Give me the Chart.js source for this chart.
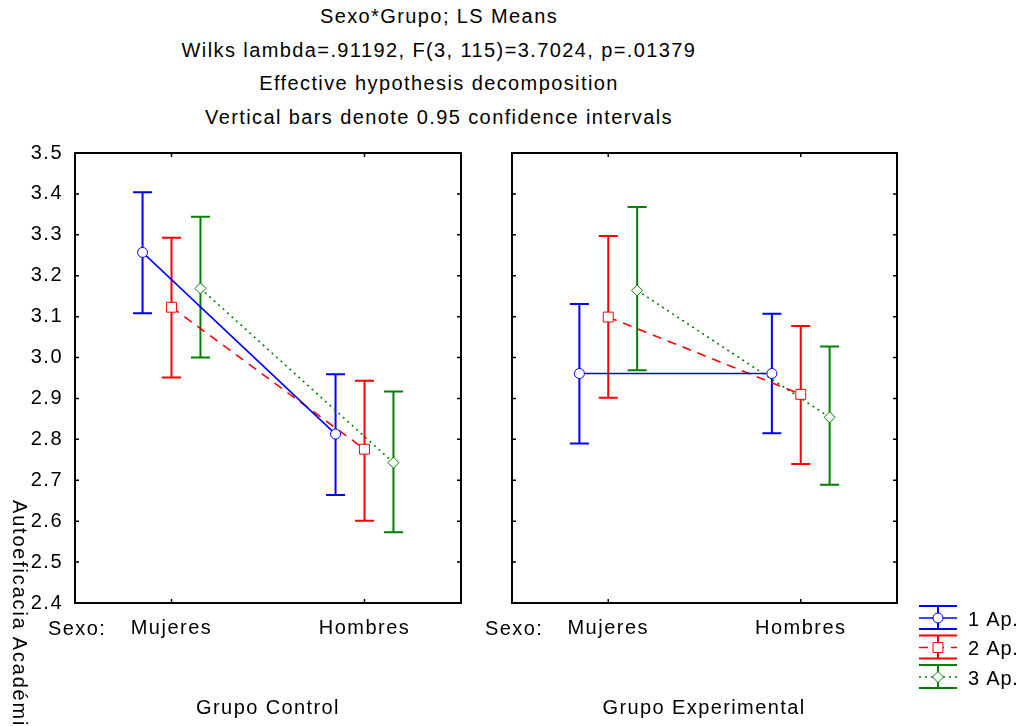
<!DOCTYPE html>
<html>
<head>
<meta charset="utf-8">
<script src="https://cdn.jsdelivr.net/npm/chart.js@4.4.0/dist/chart.umd.min.js"></script>
<style>
  html, body { margin: 0; padding: 0; background: #fff; }
  #wrap { position: relative; width: 1021px; height: 726px; overflow: hidden;
          font-family: "Liberation Sans", Arial, sans-serif; color: #000; }
  .txt { position: absolute; font-size: 20px; letter-spacing: 1.4px; white-space: nowrap; line-height: 24px; }
  .mid { transform: translate(-50%, -50%); }
  #titulo { left: 0; top: 0; width: 878px; text-align: center; line-height: 33.7px; }
  #ytitle { writing-mode: vertical-rl; left: 8px; top: 500px; letter-spacing: 1.8px; }
  canvas { position: absolute; }
</style>
</head>
<body>
<div id="wrap">
  <div id="titulo" class="txt">Sexo*Grupo; LS Means<br>Wilks lambda=.91192, F(3, 115)=3.7024, p=.01379<br>Effective hypothesis decomposition<br>Vertical bars denote 0.95 confidence intervals</div>
  <canvas id="chartControl" style="left:0;top:140px"></canvas>
  <canvas id="chartExperimental" style="left:480px;top:140px"></canvas>
  <div id="ytitle" class="txt">Autoeficacia Académica</div>
  <div class="txt" style="left:48px;top:616px">Sexo:</div>
  <div class="txt" style="left:485px;top:616px">Sexo:</div>
  <div class="txt mid" style="left:268px;top:707px">Grupo Control</div>
  <div class="txt mid" style="left:704px;top:707px">Grupo Experimental</div>
</div>
<script>
// Datos
const sexo = ["Mujeres", "Hombres"];
const aplicaciones = ["1 Ap.", "2 Ap.", "3 Ap."];
const yTicks = [2.4, 2.5, 2.6, 2.7, 2.8, 2.9, 3.0, 3.1, 3.2, 3.3, 3.4, 3.5];

// Grupo Control: [Mujeres, Hombres] para cada aplicacion
const controlMedia = [[3.257, 2.813], [3.123, 2.776], [3.169, 2.743]];
const controlInf   = [[3.108, 2.664], [2.951, 2.601], [3.000, 2.573]];
const controlSup   = [[3.404, 2.959], [3.293, 2.943], [3.344, 2.917]];

// Grupo Experimental
const expMedia = [[2.961, 2.961], [3.099, 2.910], [3.164, 2.854]];
const expInf   = [[2.790, 2.815], [2.902, 2.740], [2.969, 2.689]];
const expSup   = [[3.131, 3.107], [3.297, 3.077], [3.368, 3.027]];

// estilos de cada serie
const colores = ["#0000ff", "#ff0000", "#008000"];
const trazos = [[], [9, 7], [2, 4]];
const marcas = ["circle", "rect", "rectRot"];
const radios = [5, 7, 5.5];
const desplaz = [-0.15, 0, 0.15];

Chart.defaults.color = "#000";
Chart.defaults.font.family = '"Liberation Sans", Arial, sans-serif';
Chart.defaults.font.size = 20;

function dibujarMarca(ctx, i, x, y) {
    ctx.save();
    ctx.fillStyle = "#fff";
    ctx.strokeStyle = colores[i];
    ctx.lineWidth = 1;
    ctx.setLineDash([]);
    Chart.helpers.drawPoint(ctx, { pointStyle: marcas[i], radius: radios[i], borderWidth: 1 }, x, y);
    ctx.restore();
}

const panelPlugin = {
    id: "panel",
    beforeDraw(chart) {
        chart.ctx.letterSpacing = "1.5px";
    },
    // barras de intervalo de confianza
    beforeDatasetsDraw(chart) {
        const { ctx, scales: { x, y } } = chart;
        chart.data.datasets.forEach((ds, i) => {
            ctx.save();
            ctx.strokeStyle = colores[i];
            ctx.lineWidth = 2;
            ds.data.forEach(p => {
                const px = x.getPixelForValue(p.x);
                const top = y.getPixelForValue(p.hi);
                const bot = y.getPixelForValue(p.lo);
                ctx.beginPath();
                ctx.moveTo(px, top); ctx.lineTo(px, bot);
                ctx.moveTo(px - 9.5, top); ctx.lineTo(px + 9.5, top);
                ctx.moveTo(px - 9.5, bot); ctx.lineTo(px + 9.5, bot);
                ctx.stroke();
            });
            ctx.restore();
        });
    },
    afterDraw(chart, args, opts) {
        const { ctx, chartArea: ca, scales: { x, y } } = chart;
        ctx.save();
        ctx.strokeStyle = "#000";
        ctx.lineWidth = 2;
        ctx.strokeRect(ca.left, ca.top, ca.right - ca.left, ca.bottom - ca.top);
        // marcas de escala hacia dentro
        ctx.lineWidth = 1.5;
        ctx.beginPath();
        y.ticks.forEach(t => {
            const py = y.getPixelForValue(t.value);
            ctx.moveTo(ca.left, py); ctx.lineTo(ca.left + 4, py);
            ctx.moveTo(ca.right, py); ctx.lineTo(ca.right - 4, py);
        });
        x.ticks.forEach(t => {
            const px = x.getPixelForValue(t.value);
            ctx.moveTo(px, ca.bottom); ctx.lineTo(px, ca.bottom - 4);
            ctx.moveTo(px, ca.top); ctx.lineTo(px, ca.top + 4);
        });
        ctx.stroke();
        ctx.restore();

        if (!opts.leyenda) return;
        // leyenda a la derecha
        ctx.save();
        ctx.letterSpacing = "0.8px";
        chart.data.datasets.forEach((ds, i) => {
            const mid = ca.bottom + 15 + i * 29.5;
            const x0 = ca.right + 22, x1 = x0 + 38, cx = (x0 + x1) / 2;
            ctx.strokeStyle = colores[i];
            ctx.lineWidth = 2;
            ctx.setLineDash([]);
            ctx.beginPath();
            ctx.moveTo(x0, mid - 12); ctx.lineTo(x1, mid - 12);
            ctx.moveTo(x0, mid + 11); ctx.lineTo(x1, mid + 11);
            ctx.moveTo(cx, mid - 12); ctx.lineTo(cx, mid + 11);
            ctx.stroke();
            ctx.lineWidth = 1.5;
            ctx.setLineDash(trazos[i]);
            ctx.beginPath();
            ctx.moveTo(x0, mid); ctx.lineTo(x1, mid);
            ctx.stroke();
            dibujarMarca(ctx, i, cx, mid);
            ctx.fillStyle = "#000";
            ctx.font = '20px "Liberation Sans", Arial, sans-serif';
            ctx.textBaseline = "middle";
            ctx.textAlign = "left";
            ctx.fillText(aplicaciones[i], x1 + 11, mid + 2);
        });
        ctx.restore();
    }
};

function crearPanel(id, medias, inf, sup, conEtiquetasY, anchoY, derecha, leyenda) {
    const datasets = aplicaciones.map((nombre, i) => ({
        label: nombre,
        data: sexo.map((s, j) => ({ x: j + 1 + desplaz[i], y: medias[i][j], lo: inf[i][j], hi: sup[i][j] })),
        showLine: true,
        borderColor: colores[i],
        borderWidth: 1.6,
        borderDash: trazos[i],
        pointStyle: marcas[i],
        pointRadius: radios[i],
        pointBorderWidth: 1,
        pointBackgroundColor: "#fff",
        pointBorderColor: colores[i],
        clip: false,
    }));
    const canvas = document.getElementById(id);
    canvas.width = derecha ? 541 : 480;
    canvas.height = 586;
    return new Chart(canvas, {
        type: "scatter",
        data: { datasets: datasets },
        options: {
            responsive: false,
            animation: false,
            layout: { padding: { top: 13, right: derecha ? 124 : 19, left: 0, bottom: 0 } },
            plugins: { legend: { display: false }, tooltip: { enabled: false }, panel: { leyenda: leyenda } },
            scales: {
                x: {
                    type: "linear",
                    min: 0.5,
                    max: 2.5,
                    grid: { display: false, drawTicks: false },
                    border: { display: false },
                    afterBuildTicks: s => { s.ticks = sexo.map((n, j) => ({ value: j + 1 })); },
                    afterFit: s => { s.height = 123; s.paddingLeft = 0; s.paddingRight = 0; },
                    ticks: { padding: 13, callback: v => sexo[v - 1], maxRotation: 0 }
                },
                y: {
                    min: 2.4,
                    max: 3.5,
                    grid: { display: false, drawTicks: false },
                    border: { display: false },
                    afterBuildTicks: s => { s.ticks = yTicks.map(v => ({ value: v })); },
                    afterFit: s => { s.width = anchoY; s.paddingTop = 0; s.paddingBottom = 0; },
                    ticks: { display: conEtiquetasY, padding: 12, callback: v => v.toFixed(1) }
                }
            }
        },
        plugins: [panelPlugin]
    });
}

crearPanel("chartControl", controlMedia, controlInf, controlSup, true, 75, false, false);
crearPanel("chartExperimental", expMedia, expInf, expSup, false, 32, true, true);
</script>
</body>
</html>
